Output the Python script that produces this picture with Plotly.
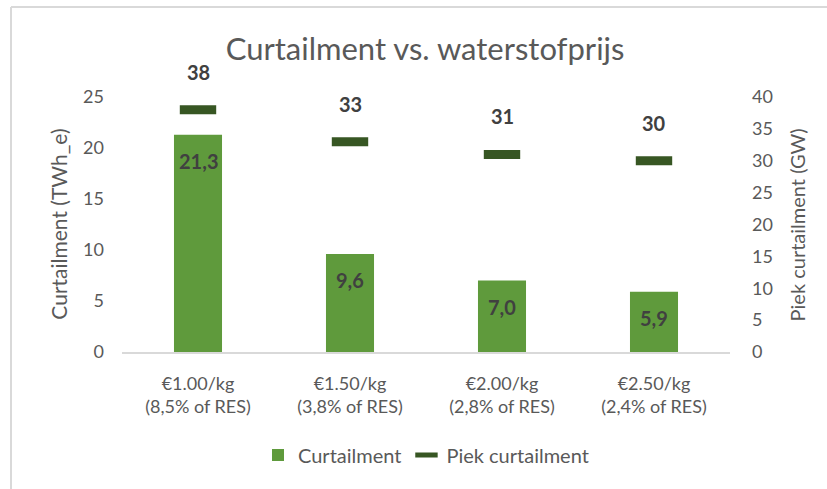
import plotly.graph_objects as go

# Hydrogen price scenarios and the resulting curtailment figures
categories = [
    "€1.00/kg<br>(8,5% of RES)",
    "€1.50/kg<br>(3,8% of RES)",
    "€2.00/kg<br>(2,8% of RES)",
    "€2.50/kg<br>(2,4% of RES)",
]
curtailment_twh = [21.3, 9.6, 7.0, 5.9]
peak_curtailment_gw = [38, 33, 31, 30]

BAR_GREEN = "#5f9a3c"
DASH_GREEN = "#375623"
TEXT_GREY = "#595959"
LABEL_DARK = "#404040"
FONT = "Lato"

fig = go.Figure()

fig.add_trace(go.Bar(
    x=categories,
    y=curtailment_twh,
    name="Curtailment",
    marker=dict(color=BAR_GREEN, line=dict(width=0)),
    yaxis="y",
))

fig.add_trace(go.Scatter(
    x=categories,
    y=peak_curtailment_gw,
    name="Piek curtailment",
    mode="markers",
    marker=dict(symbol="line-ew", size=26,
                line=dict(width=9, color=DASH_GREEN), color=DASH_GREEN),
    yaxis="y2",
))

annotations = []
for cat, v in zip(categories, curtailment_twh):
    annotations.append(dict(
        x=cat, y=v, xref="x", yref="y", yshift=-26,
        text="<b>" + f"{v:.1f}".replace(".", ",") + "</b>",
        showarrow=False, font=dict(family=FONT, size=20, color=LABEL_DARK),
    ))
for cat, v in zip(categories, peak_curtailment_gw):
    annotations.append(dict(
        x=cat, y=v, xref="x", yref="y2", yshift=38,
        text=f"<b>{v}</b>",
        showarrow=False, font=dict(family=FONT, size=20, color=LABEL_DARK),
    ))

# Axis titles, placed beside the tick labels
annotations.append(dict(
    text="Curtailment (TWh_e)", textangle=-90, showarrow=False,
    xref="paper", yref="paper", x=-0.105, y=0.5, xanchor="center", yanchor="middle",
    font=dict(family=FONT, size=21, color=TEXT_GREY),
))
annotations.append(dict(
    text="Piek curtailment (GW)", textangle=-90, showarrow=False,
    xref="paper", yref="paper", x=1.110, y=0.5, xanchor="center", yanchor="middle",
    font=dict(family=FONT, size=20, color=TEXT_GREY),
))

fig.update_layout(
    width=827, height=489,
    margin=dict(l=122, r=97, t=97, b=137),
    paper_bgcolor="white", plot_bgcolor="white",
    font=dict(family=FONT, size=18, color=TEXT_GREY),
    title=dict(text="Curtailment vs. waterstofprijs", x=0.514, xanchor="center",
               y=0.9, yanchor="middle",
               font=dict(family=FONT, size=31, color=TEXT_GREY)),
    bargap=0.684,
    showlegend=True,
    legend=dict(orientation="h", x=0.5, xanchor="center", y=-0.404, yanchor="middle",
                font=dict(family=FONT, size=20, color=TEXT_GREY),
                itemwidth=30, traceorder="normal"),
    xaxis=dict(showline=True, linecolor="#d9d9d9", linewidth=2, ticks="",
               showgrid=False, ticklabelstandoff=14,
               tickfont=dict(family=FONT, size=18, color=TEXT_GREY)),
    yaxis=dict(range=[0, 25], dtick=5, showgrid=False, zeroline=False, showline=False,
               tickfont=dict(family=FONT, size=18, color=TEXT_GREY), ticklabelstandoff=17),
    yaxis2=dict(range=[0, 40], dtick=5, overlaying="y", side="right", showgrid=False,
                zeroline=False, showline=False,
                tickfont=dict(family=FONT, size=18, color=TEXT_GREY), ticklabelstandoff=21),
    annotations=annotations,
    shapes=[
        dict(type="line", xref="paper", yref="paper",
             x0=(11 - 122) / 608, x1=(830 - 122) / 608,
             y0=(352 - 7) / 255, y1=(352 - 7) / 255,
             line=dict(color="#d9d9d9", width=2)),
        dict(type="line", xref="paper", yref="paper",
             x0=(11 - 122) / 608, x1=(11 - 122) / 608,
             y0=(352 - 7) / 255, y1=(352 - 492) / 255,
             line=dict(color="#d9d9d9", width=2)),
    ],
)

fig.write_html("out.html")
